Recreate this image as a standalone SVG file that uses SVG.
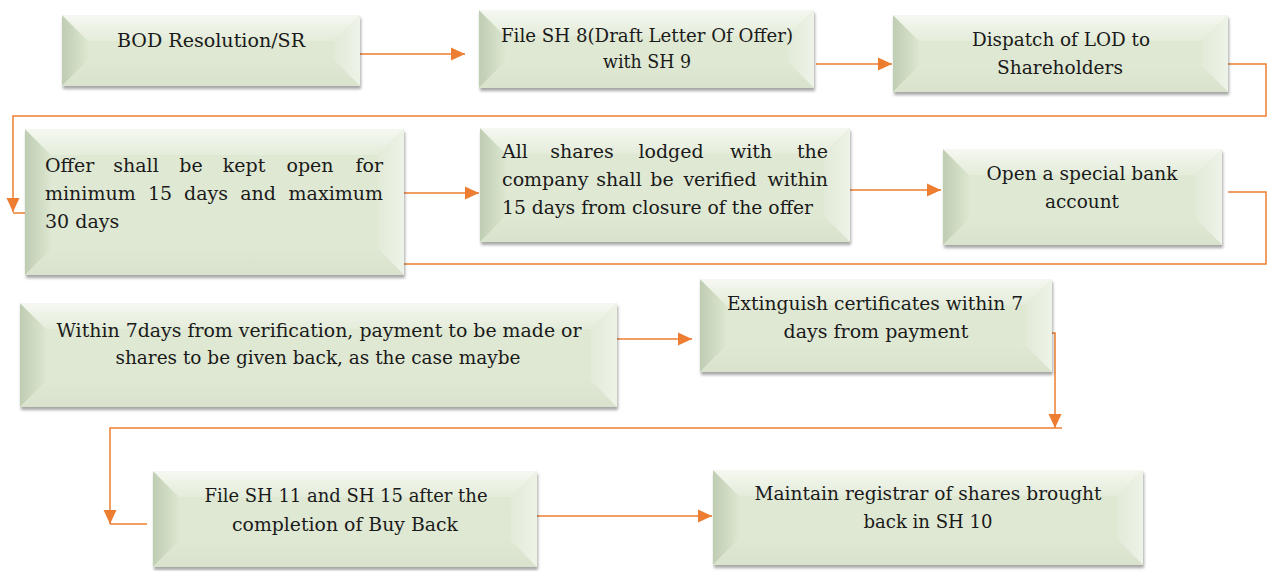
<svg xmlns="http://www.w3.org/2000/svg" width="1267" height="571" viewBox="0 0 1267 571">
<style>
.base{fill:#DFE8D3;filter:url(#sh)}
.l{fill:url(#gL)}.t{fill:url(#gT)}.r{fill:url(#gR)}.b{fill:url(#gB)}
.tx{font-family:"DejaVu Serif","Liberation Serif",serif;font-size:19px;fill:#1a1a1a}
.m{text-anchor:middle}
.e{text-anchor:end}
.cn{fill:none;stroke:#ED7D31;stroke-width:1.5}
</style>
<defs>
<filter id="sh" x="-5%" y="-10%" width="115%" height="130%">
<feDropShadow dx="1" dy="3" stdDeviation="1.8" flood-color="#000" flood-opacity="0.35"/>
</filter>
<linearGradient id="gL" x1="0" y1="0" x2="1" y2="0"><stop offset="0" stop-color="#BFCDB3"/><stop offset="1" stop-color="#DCE6D0"/></linearGradient>
<linearGradient id="gT" x1="0" y1="0" x2="0" y2="1"><stop offset="0" stop-color="#F5F8F1"/><stop offset="1" stop-color="#E4ECDA"/></linearGradient>
<linearGradient id="gR" x1="0" y1="0" x2="1" y2="0"><stop offset="0" stop-color="#E2EAD8"/><stop offset="1" stop-color="#EEF3E8"/></linearGradient>
<linearGradient id="gB" x1="0" y1="0" x2="0" y2="1"><stop offset="0" stop-color="#DFE8D3"/><stop offset="1" stop-color="#D8E2CC"/></linearGradient>
<marker id="ah" markerUnits="userSpaceOnUse" markerWidth="15" markerHeight="14" refX="14" refY="6.5" orient="auto" overflow="visible">
<path d="M0,0 L14,6.5 L0,13 z" fill="#ED7D31"/>
</marker>
</defs>

<g id="connectors">
<path class="cn" d="M360,54 H465" marker-end="url(#ah)"/>
<path class="cn" d="M816,64 H892" marker-end="url(#ah)"/>
<path class="cn" d="M1228,64 H1266 V116 H13 V212" marker-end="url(#ah)"/>
<path class="cn" d="M13,213 H25"/>
<path class="cn" d="M404,193 H479" marker-end="url(#ah)"/>
<path class="cn" d="M850,190 H941" marker-end="url(#ah)"/>
<path class="cn" d="M1228,192 H1266 V264 H404"/>
<path class="cn" d="M617,339 H692" marker-end="url(#ah)"/>
<path class="cn" d="M1052,333 H1055 V428" marker-end="url(#ah)"/>
<path class="cn" d="M1062,428 H110 V524" marker-end="url(#ah)"/>
<path class="cn" d="M110,524 H147"/>
<path class="cn" d="M537,516 H712" marker-end="url(#ah)"/>
</g>

<g id="n1">
<rect class="base" x="62" y="15" width="298" height="71"/>
<polygon class="l" points="62,15 88,41 88,60 62,86"/>
<polygon class="t" points="62,15 360,15 334,41 88,41"/>
<polygon class="r" points="360,15 360,86 334,60 334,41"/>
<polygon class="b" points="62,86 88,60 334,60 360,86"/>
<text class="tx m" x="211" y="47" textLength="188" lengthAdjust="spacingAndGlyphs">BOD Resolution/SR</text>
</g>

<g id="n2">
<rect class="base" x="479" y="10" width="335" height="78"/>
<polygon class="l" points="479,10 505,36 505,62 479,88"/>
<polygon class="t" points="479,10 814,10 788,36 505,36"/>
<polygon class="r" points="814,10 814,88 788,62 788,36"/>
<polygon class="b" points="479,88 505,62 788,62 814,88"/>
<text class="tx m" x="647" y="42" textLength="292" lengthAdjust="spacingAndGlyphs">File SH 8(Draft Letter Of Offer)</text>
<text class="tx m" x="647" y="68" textLength="88" lengthAdjust="spacingAndGlyphs">with SH 9</text>
</g>

<g id="n3">
<rect class="base" x="893" y="15" width="335" height="77"/>
<polygon class="l" points="893,15 919,41 919,66 893,92"/>
<polygon class="t" points="893,15 1228,15 1202,41 919,41"/>
<polygon class="r" points="1228,15 1228,92 1202,66 1202,41"/>
<polygon class="b" points="893,92 919,66 1202,66 1228,92"/>
<text class="tx m" x="1061" y="46" textLength="178" lengthAdjust="spacingAndGlyphs">Dispatch of LOD to</text>
<text class="tx m" x="1060" y="74" textLength="126" lengthAdjust="spacingAndGlyphs">Shareholders</text>
</g>

<g id="n4">
<rect class="base" x="25" y="129" width="379" height="146"/>
<polygon class="l" points="25,129 51,155 51,249 25,275"/>
<polygon class="t" points="25,129 404,129 378,155 51,155"/>
<polygon class="r" points="404,129 404,275 378,249 378,155"/>
<polygon class="b" points="25,275 51,249 378,249 404,275"/>
<text class="tx" x="45" y="172">Offer</text>
<text class="tx m" y="172"><tspan x="136">shall</tspan><tspan x="191">be</tspan><tspan x="244">kept</tspan><tspan x="310">open</tspan></text>
<text class="tx e" x="383" y="172">for</text>
<text class="tx" x="45" y="200">minimum</text>
<text class="tx m" y="200"><tspan x="160">15</tspan><tspan x="206">days</tspan><tspan x="258">and</tspan></text>
<text class="tx e" x="383" y="200">maximum</text>
<text class="tx" x="45" y="228">30 days</text>
</g>

<g id="n5">
<rect class="base" x="480" y="128" width="370" height="114"/>
<polygon class="l" points="480,128 506,154 506,216 480,242"/>
<polygon class="t" points="480,128 850,128 824,154 506,154"/>
<polygon class="r" points="850,128 850,242 824,216 824,154"/>
<polygon class="b" points="480,242 506,216 824,216 850,242"/>
<text class="tx" x="502" y="158">All</text>
<text class="tx m" y="158"><tspan x="582">shares</tspan><tspan x="671">lodged</tspan><tspan x="751">with</tspan></text>
<text class="tx e" x="828" y="158">the</text>
<text class="tx" x="502" y="186">company</text>
<text class="tx m" y="186"><tspan x="619">shall</tspan><tspan x="662">be</tspan><tspan x="720">verified</tspan></text>
<text class="tx e" x="828" y="186">within</text>
<text class="tx" x="502" y="214" textLength="311" lengthAdjust="spacingAndGlyphs">15 days from closure of the offer</text>
</g>

<g id="n6">
<rect class="base" x="943" y="149" width="279" height="96"/>
<polygon class="l" points="943,149 969,175 969,219 943,245"/>
<polygon class="t" points="943,149 1222,149 1196,175 969,175"/>
<polygon class="r" points="1222,149 1222,245 1196,219 1196,175"/>
<polygon class="b" points="943,245 969,219 1196,219 1222,245"/>
<text class="tx m" x="1082" y="180" textLength="191" lengthAdjust="spacingAndGlyphs">Open a special bank</text>
<text class="tx m" x="1082" y="208" textLength="74" lengthAdjust="spacingAndGlyphs">account</text>
</g>

<g id="n7">
<rect class="base" x="20" y="303" width="597" height="104"/>
<polygon class="l" points="20,303 46,329 46,381 20,407"/>
<polygon class="t" points="20,303 617,303 591,329 46,329"/>
<polygon class="r" points="617,303 617,407 591,381 591,329"/>
<polygon class="b" points="20,407 46,381 591,381 617,407"/>
<text class="tx m" x="319" y="337" textLength="525" lengthAdjust="spacingAndGlyphs">Within 7days from verification, payment to be made or</text>
<text class="tx m" x="318" y="364" textLength="405" lengthAdjust="spacingAndGlyphs">shares to be given back, as the case maybe</text>
</g>

<g id="n8">
<rect class="base" x="700" y="279" width="352" height="93"/>
<polygon class="l" points="700,279 726,305 726,346 700,372"/>
<polygon class="t" points="700,279 1052,279 1026,305 726,305"/>
<polygon class="r" points="1052,279 1052,372 1026,346 1026,305"/>
<polygon class="b" points="700,372 726,346 1026,346 1052,372"/>
<text class="tx m" x="875" y="310" textLength="296" lengthAdjust="spacingAndGlyphs">Extinguish certificates within 7</text>
<text class="tx m" x="876" y="338" textLength="185" lengthAdjust="spacingAndGlyphs">days from payment</text>
</g>

<g id="n9">
<rect class="base" x="153" y="471" width="384" height="96"/>
<polygon class="l" points="153,471 179,497 179,541 153,567"/>
<polygon class="t" points="153,471 537,471 511,497 179,497"/>
<polygon class="r" points="537,471 537,567 511,541 511,497"/>
<polygon class="b" points="153,567 179,541 511,541 537,567"/>
<text class="tx m" x="346" y="502" textLength="283" lengthAdjust="spacingAndGlyphs">File SH 11 and SH 15 after the</text>
<text class="tx m" x="345" y="531" textLength="226" lengthAdjust="spacingAndGlyphs">completion of Buy Back</text>
</g>

<g id="n10">
<rect class="base" x="713" y="470" width="430" height="95"/>
<polygon class="l" points="713,470 739,496 739,539 713,565"/>
<polygon class="t" points="713,470 1143,470 1117,496 739,496"/>
<polygon class="r" points="1143,470 1143,565 1117,539 1117,496"/>
<polygon class="b" points="713,565 739,539 1117,539 1143,565"/>
<text class="tx m" x="928" y="500" textLength="347" lengthAdjust="spacingAndGlyphs">Maintain registrar of shares brought</text>
<text class="tx m" x="928" y="528" textLength="129" lengthAdjust="spacingAndGlyphs">back in SH 10</text>
</g>
</svg>
